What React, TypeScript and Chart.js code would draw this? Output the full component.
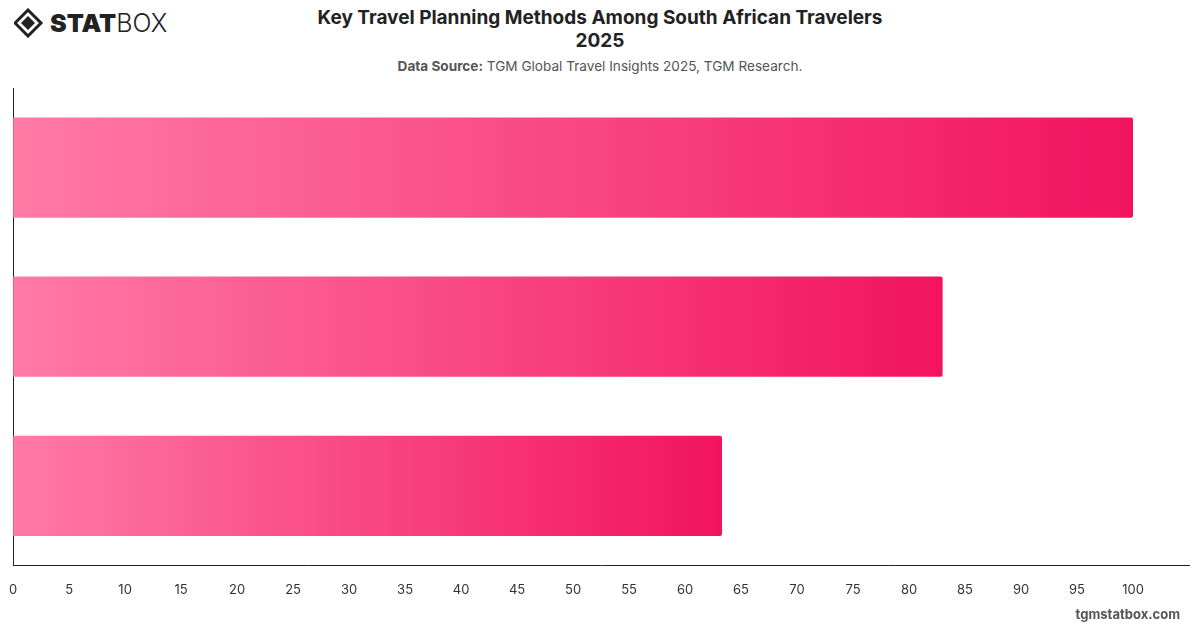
import React, { useEffect, useRef } from "react";
import { Chart, registerables } from "chart.js";

Chart.register(...registerables);

const categories: string[] = ["Method A", "Method B", "Method C"];
const values: number[] = [100, 83, 63.3];
const axisMax = 105;
const tickStep = 5;
const titleLines: string[] = ["Key Travel Planning Methods Among South African Travelers", "2025"];
const sourceLabel = "Data Source:";
const sourceText = " TGM Global Travel Insights 2025, TGM Research.";
const footerText = "tgmstatbox.com";

const FONT = "Inter, 'Helvetica Neue', Arial, sans-serif";

export default function App() {
  const canvasRef = useRef<HTMLCanvasElement | null>(null);

  useEffect(() => {
    if (!canvasRef.current) return;
    const chart = new Chart(canvasRef.current, {
      type: "bar",
      data: {
        labels: categories,
        datasets: [
          {
            data: values,
            backgroundColor: (ctx: any) => {
              const c = ctx.chart;
              const sx = c.scales && c.scales.x;
              if (!c.chartArea || !sx) return "#f7437f";
              const v = typeof ctx.raw === "number" ? ctx.raw : 0;
              const x0 = sx.getPixelForValue(0);
              const x1 = sx.getPixelForValue(v);
              const g = c.ctx.createLinearGradient(x0, 0, Math.max(x1, x0 + 1), 0);
              g.addColorStop(0, "#ff7aa6");
              g.addColorStop(1, "#f2135f");
              return g;
            },
            borderWidth: 0,
            borderRadius: 2,
            borderSkipped: "start",
            barPercentage: 0.63,
            categoryPercentage: 1,
          },
        ],
      },
      options: {
        indexAxis: "y",
        animation: false,
        responsive: false,
        maintainAspectRatio: false,
        layout: { padding: { left: 2, right: 11, top: 8, bottom: 0 } },
        plugins: {
          legend: { display: false },
          tooltip: { enabled: false },
          title: { display: false },
        },
        scales: {
          x: {
            min: 0,
            max: axisMax,
            grid: { display: false },
            border: { display: true, color: "#222", width: 1 },
            ticks: {
              stepSize: tickStep,
              color: "#333",
              padding: 9,
              font: { family: FONT, size: 13 },
              callback: (v: any) => (Number(v) > 100 ? "" : String(v)),
            },
          },
          y: {
            grid: { display: false },
            border: { display: true, color: "#222", width: 1 },
            ticks: { display: false },
          },
        },
      },
    });
    return () => chart.destroy();
  }, []);

  return (
    <div
      style={{
        position: "absolute",
        left: 0,
        top: 0,
        width: 1200,
        height: 628,
        background: "#fff",
        fontFamily: FONT,
        overflow: "hidden",
      }}
    >
      <div style={{ position: "absolute", left: 14, top: 8, display: "flex", alignItems: "center" }}>
        <svg width="40" height="30" viewBox="0 0 40 30">
          <polygon points="14,2 27,15 14,28 1,15" fill="none" stroke="#222" strokeWidth="3" />
          <polygon points="14,8 21,15 14,22 7,15" fill="#222" />
        </svg>
        <span style={{ fontSize: 25, fontWeight: 900, color: "#222", marginLeft: -4 }}>STAT</span>
        <span style={{ fontSize: 25, fontWeight: 300, color: "#222" }}>BOX</span>
      </div>
      <div
        style={{
          position: "absolute",
          left: 0,
          width: 1200,
          top: 6,
          textAlign: "center",
          fontSize: 19,
          fontWeight: 700,
          color: "#222",
          lineHeight: "23px",
        }}
      >
        {titleLines.map((t, i) => (
          <div key={i}>{t}</div>
        ))}
      </div>
      <div
        style={{
          position: "absolute",
          left: 0,
          width: 1200,
          top: 58,
          textAlign: "center",
          fontSize: 13.6,
          color: "#555",
        }}
      >
        <span style={{ fontWeight: 700 }}>{sourceLabel}</span>
        <span>{sourceText}</span>
      </div>
      <canvas
        ref={canvasRef}
        width={1200}
        height={527}
        style={{ position: "absolute", left: 0, top: 80, width: 1200, height: 527 }}
      />
      <div
        style={{
          position: "absolute",
          right: 20,
          top: 606,
          fontSize: 13,
          fontWeight: 700,
          color: "#555",
        }}
      >
        {footerText}
      </div>
    </div>
  );
}
